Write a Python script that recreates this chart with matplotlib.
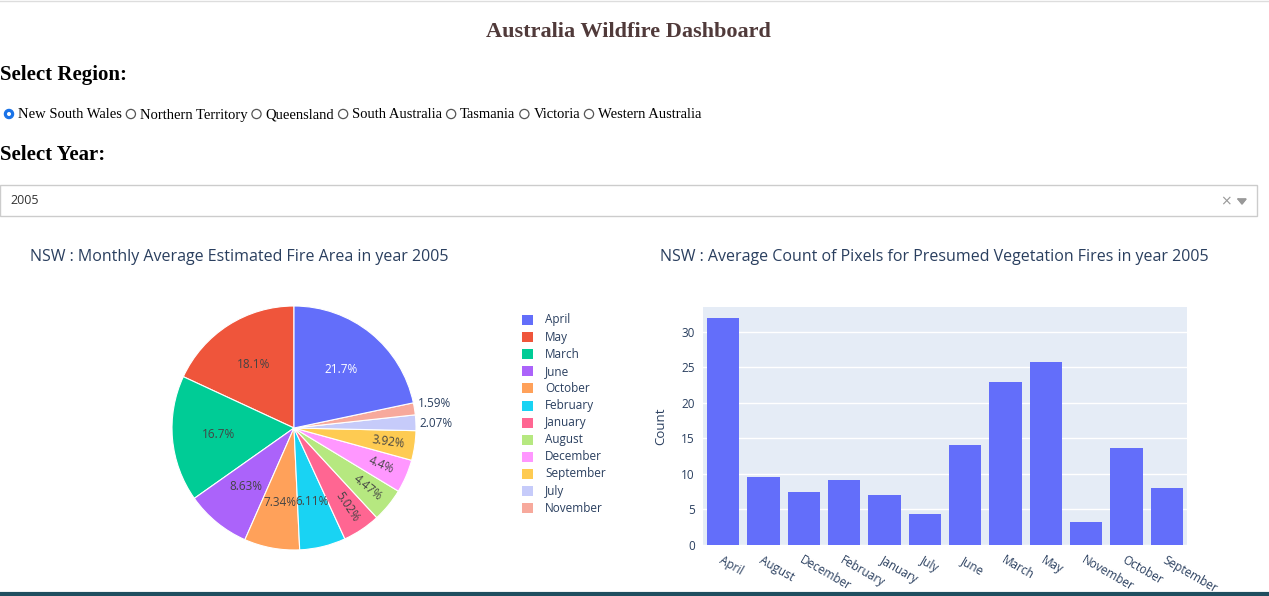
import matplotlib

matplotlib.use("Agg")

import matplotlib.pyplot as plt
from matplotlib.patches import Rectangle, Circle
import numpy as np

# pie data (plotly order, descending)
pie_months = ["April", "May", "March", "June", "October", "February", "January",
              "August", "December", "September", "July", "November"]
pie_pct = [21.7, 18.1, 16.7, 8.63, 7.34, 6.11, 5.02, 4.47, 4.4, 3.92, 2.07, 1.59]
pie_colors = ["#636efa", "#EF553B", "#00cc96", "#ab63fa", "#FFA15A", "#19d3f3",
              "#FF6692", "#B6E880", "#FF97FF", "#FECB52", "#C6CBFA", "#F7A99C"]

# bar data
bar_months = ["April", "August", "December", "February", "January", "July", "June",
              "March", "May", "November", "October", "September"]
bar_counts = [32.0, 9.6, 7.4, 9.1, 7.1, 4.3, 14.1, 23.0, 25.7, 3.2, 13.7, 8.0]

regions = ["New South Wales", "Northern Territory", "Queensland", "South Australia",
           "Tasmania", "Victoria", "Western Australia"]

W, H = 1269, 596
SERIF = "Liberation Serif"
PLOTLY = "Open Sans"
fig = plt.figure(figsize=(W / 100, H / 100), dpi=100)
fig.patch.set_facecolor("white")

# page layer in pixel coordinates
page = fig.add_axes([0, 0, 1, 1])
page.set_xlim(0, W)
page.set_ylim(H, 0)
page.axis("off")

page.axhline(1, color="#dddddd", linewidth=1)
page.plot([0, W], [594, 594], color="#1f4e5f", linewidth=3)
page.text(628, 32, "Australia Wildfire Dashboard", ha="center", va="center",
          family=SERIF, fontsize=16, fontweight="bold", color="#503A3A")
page.text(0, 75, "Select Region:", ha="left", va="center", family=SERIF,
          fontsize=15, fontweight="bold", color="black")
page.text(0, 155, "Select Year:", ha="left", va="center", family=SERIF,
          fontsize=15, fontweight="bold", color="black")

# radio buttons
x = 4
for i, name in enumerate(regions):
    page.add_patch(Circle((x + 5, 114), 4.6, facecolor="#1a73e8" if i == 0 else "white",
                          edgecolor="#1a73e8" if i == 0 else "#555555", linewidth=0.9))
    if i == 0:
        page.add_patch(Circle((x + 5, 114), 2.0, facecolor="white", edgecolor="none"))
    t = page.text(x + 14, 115, name, ha="left", va="center", family=SERIF,
                  fontsize=10.5, color="black")
    fig.canvas.draw()
    bb = t.get_window_extent()
    x = x + 14 + bb.width + 4

# dropdown
page.add_patch(Rectangle((0, 185), 1257, 31, facecolor="white", edgecolor="#cccccc",
                         linewidth=1))
page.text(10, 201, "2005", ha="left", va="center", family=PLOTLY, fontsize=9, color="#333333")
page.text(1226, 201, "×", ha="center", va="center", family="DejaVu Sans", fontsize=10,
          color="#999999")
page.plot([1238, 1246, 1242, 1238], [199, 199, 204, 199], color="#999999", linewidth=0.8)
page.fill([1238, 1246, 1242], [199, 199, 204], color="#999999")

# chart titles
page.text(30, 257, "NSW : Monthly Average Estimated Fire Area in year 2005", ha="left",
          va="center", family=PLOTLY, fontsize=11.5, color="#2a3f5f")
page.text(660, 257, "NSW : Average Count of Pixels for Presumed Vegetation Fires in year 2005",
          ha="left", va="center", family=PLOTLY, fontsize=11.5, color="#2a3f5f")

# legend
for i, (m, c) in enumerate(zip(pie_months, pie_colors)):
    y = 320 + i * 17.1
    page.add_patch(Rectangle((522, y - 5), 11, 10, facecolor=c, edgecolor="none"))
    page.text(545, y, m, ha="left", va="center", family=PLOTLY, fontsize=8.5, color="#2a3f5f")

# pie
cx, cy, r = 294, 428, 122
pax = fig.add_axes([(cx - r) / W, 1 - (cy + r) / H, 2 * r / W, 2 * r / H])
order = [1, 2, 3, 4, 5, 6, 7, 8, 9, 10, 11, 0]
vals = [pie_pct[i] for i in order]
cols = [pie_colors[i] for i in order]
wedges, _ = pax.pie(vals, colors=cols, startangle=90, counterclock=True,
                    wedgeprops=dict(edgecolor="white", linewidth=0.8))
pax.set_aspect("equal")
pax.set_xlim(-1, 1)
pax.set_ylim(-1, 1)
cum = 0
for i in order:
    v = pie_pct[i]
    mid = np.deg2rad(90 + (cum + v / 2) * 3.6)
    cum += v
    label = f"{v:g}%"
    if v < 3:
        pax.text(1.03 * np.cos(mid), 1.03 * np.sin(mid) + (0.04 if v < 2 else -0.01), label,
                 ha="left", va="center", family=PLOTLY, fontsize=8.5, color="#2a3f5f")
        continue
    rr = 0.78 if v < 6 else 0.62
    rot = 0
    if v < 5.5:
        rot = np.rad2deg(mid) % 360
        if 90 < rot < 270:
            rot -= 180
    color = "white" if i == 0 else "#444444"
    pax.text(rr * np.cos(mid), rr * np.sin(mid), label, ha="center", va="center",
             rotation=rot, rotation_mode="anchor", family=PLOTLY, fontsize=8.5, color=color)

# bar chart
bax = fig.add_axes([703 / W, 1 - 545 / H, (1187 - 703) / W, (545 - 307) / H])
bax.set_facecolor("#E5ECF6")
xs = np.arange(len(bar_months))
bax.bar(xs, bar_counts, width=0.8, color="#636efa", zorder=3)
bax.set_xlim(-0.5, len(bar_months) - 0.5)
bax.set_ylim(0, 33.5)
bax.set_yticks([0, 5, 10, 15, 20, 25, 30])
bax.grid(axis="y", color="white", linewidth=1, zorder=0)
bax.set_xticks(xs)
bax.set_xticklabels(bar_months, rotation=-30, ha="left", rotation_mode="anchor")
for s in bax.spines.values():
    s.set_visible(False)
bax.tick_params(length=0, labelsize=8.5, labelcolor="#2a3f5f", pad=6)
for lab in bax.get_xticklabels() + bax.get_yticklabels():
    lab.set_family(PLOTLY)
bax.set_ylabel("Count", family=PLOTLY, fontsize=9.5, color="#2a3f5f", labelpad=10)

fig.savefig("out.png", dpi=100)
